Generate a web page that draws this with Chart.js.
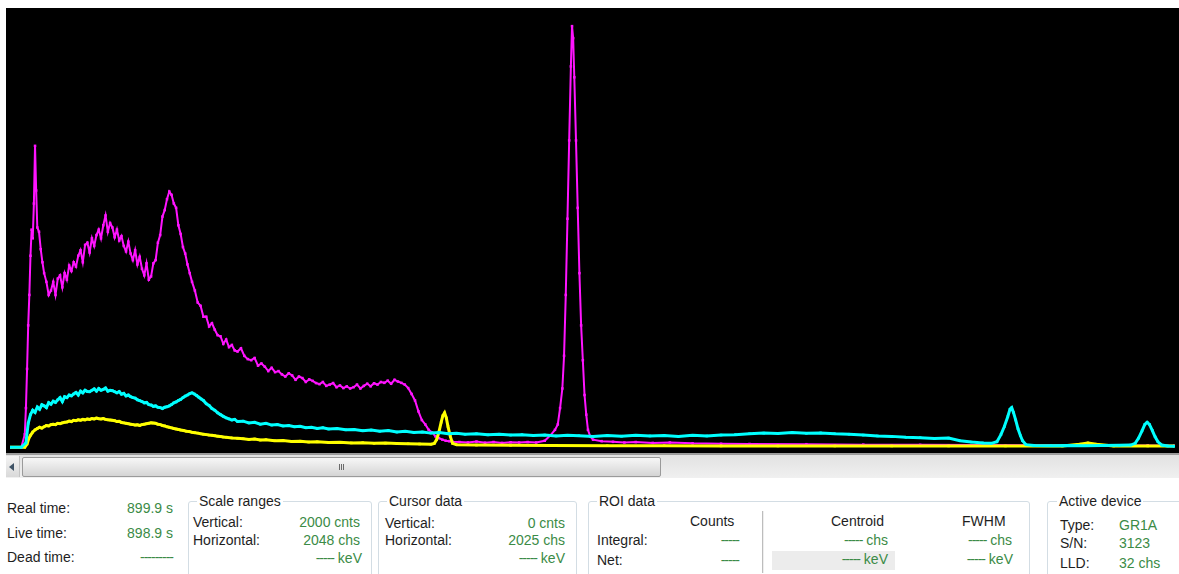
<!DOCTYPE html>
<html>
<head>
<meta charset="utf-8">
<script src="https://cdn.jsdelivr.net/npm/chart.js@4.4.1/dist/chart.umd.min.js"></script>
<style>
body { margin:0; width:1179px; height:574px; background:#fff; overflow:hidden; position:relative;
       font-family:"Liberation Sans", Arial, sans-serif; font-size:14px; color:#1e1e1e; }
#plot { position:absolute; left:6px; top:8px; width:1173px; height:445px; background:#000; }
#axisLine { position:absolute; left:6px; top:453px; width:1173px; height:2px; background:#9c9c9c; }
#scroll { position:absolute; left:6px; top:455px; width:1173px; height:23px; background:linear-gradient(#e2e2e2,#f0f0f0); }
#btnLeft { position:absolute; left:0; top:1px; width:13px; height:21px; background:linear-gradient(#f4f4f4,#d9d9d9); border-right:1px solid #c4c4c4; }
#btnLeft:after { content:""; position:absolute; left:3px; top:7px; border-top:4px solid transparent; border-bottom:4px solid transparent; border-right:5px solid #3f5366; }
#thumb { position:absolute; left:16px; top:2px; width:637px; height:18px; border:1px solid #9a9a9a; border-radius:2px;
         background:linear-gradient(#f7f7f7,#e6e6e6 50%,#d4d4d4); }
.grip { position:absolute; top:6px; width:1px; height:6px; background:#6a6a6a; }
.t { position:absolute; white-space:nowrap; line-height:16px; }
.g { color:#3b8b46; }
.d { letter-spacing:-1px; }
.box { position:absolute; top:501px; height:90px; border:1px solid #d3dde4; border-radius:3px; }
.title { position:absolute; background:#fff; padding:0 2px; line-height:16px; top:493px; }
</style>
</head>
<body>
<div id="plot"><canvas id="spectrum"></canvas></div>
<div id="axisLine"></div>
<div id="scroll">
  <div id="btnLeft"></div>
  <div id="thumb">
    <div class="grip" style="left:316px"></div>
    <div class="grip" style="left:318px"></div>
    <div class="grip" style="left:320px"></div>
  </div>
</div>

<div class="t" style="left:7px;top:500px">Real time:</div>
<div class="t g" style="right:1006px;top:500px">899.9 s</div>
<div class="t" style="left:7px;top:525px">Live time:</div>
<div class="t g" style="right:1006px;top:525px">898.9 s</div>
<div class="t" style="left:7px;top:549px">Dead time:</div>
<div class="t g d" style="right:1006px;top:549px">---------</div>

<div class="box" style="left:188px;width:182px"></div>
<div class="title" style="left:197px">Scale ranges</div>
<div class="t" style="left:193px;top:514px">Vertical:</div>
<div class="t g" style="right:819px;top:514px">2000 cnts</div>
<div class="t" style="left:193px;top:532px">Horizontal:</div>
<div class="t g" style="right:819px;top:532px">2048 chs</div>
<div class="t g" style="right:817px;top:550px"><span class="d">-----</span> keV</div>

<div class="box" style="left:378px;width:197px"></div>
<div class="title" style="left:387px">Cursor data</div>
<div class="t" style="left:385px;top:515px">Vertical:</div>
<div class="t g" style="right:614px;top:515px">0 cnts</div>
<div class="t" style="left:385px;top:532px">Horizontal:</div>
<div class="t g" style="right:614px;top:532px">2025 chs</div>
<div class="t g" style="right:614px;top:550px"><span class="d">-----</span> keV</div>

<div class="box" style="left:588px;width:440px"></div>
<div class="title" style="left:597px">ROI data</div>
<div class="t" style="left:690px;top:513px">Counts</div>
<div class="t" style="left:597px;top:532px">Integral:</div>
<div class="t g d" style="right:440px;top:532px">-----</div>
<div class="t" style="left:597px;top:552px">Net:</div>
<div class="t g d" style="right:440px;top:552px">-----</div>
<div style="position:absolute;left:762px;top:511px;width:1px;height:62px;background:#bdbdbd;border-right:1px solid #eee"></div>
<div class="t" style="left:831px;top:513px">Centroid</div>
<div class="t g" style="right:291px;top:532px"><span class="d">-----</span> chs</div>
<div style="position:absolute;left:772px;top:551px;width:123px;height:19px;background:#ececec"></div>
<div class="t g" style="right:291px;top:551px"><span class="d">-----</span> keV</div>
<div class="t" style="left:962px;top:513px">FWHM</div>
<div class="t g" style="right:167px;top:532px"><span class="d">-----</span> chs</div>
<div class="t g" style="right:166px;top:551px"><span class="d">-----</span> keV</div>

<div class="box" style="left:1047px;width:150px"></div>
<div class="title" style="left:1057px">Active device</div>
<div class="t" style="left:1060px;top:517px">Type:</div>
<div class="t g" style="left:1119px;top:517px">GR1A</div>
<div class="t" style="left:1060px;top:535px">S/N:</div>
<div class="t g" style="left:1119px;top:535px">3123</div>
<div class="t" style="left:1060px;top:555px">LLD:</div>
<div class="t g" style="left:1119px;top:555px">32 chs</div>

<script>
// spectrum data (channel / counts)
const magentaCh = [
  0, 20, 26, 28, 30, 32, 34, 36, 38, 40,
  42, 44, 46, 48, 51, 54, 57, 60, 64, 68,
  72, 76, 80, 84, 88, 92, 96, 100, 104, 108,
  112, 116, 120, 124, 128, 132, 136, 140, 144, 148,
  152, 156, 160, 164, 168, 172, 176, 180, 184, 188,
  192, 196, 200, 204, 208, 212, 216, 220, 224, 228,
  232, 236, 240, 244, 248, 252, 256, 260, 264, 268,
  272, 276, 280, 284, 288, 292, 296, 300, 304, 308,
  312, 316, 320, 325, 330, 335, 340, 345, 350, 355,
  360, 365, 370, 375, 380, 385, 390, 395, 400, 406,
  412, 418, 424, 430, 436, 442, 448, 454, 460, 466,
  472, 478, 484, 490, 496, 502, 508, 514, 520, 526,
  532, 538, 544, 550, 556, 562, 568, 574, 580, 586,
  592, 598, 604, 610, 616, 622, 628, 634, 640, 646,
  652, 658, 664, 670, 676, 682, 688, 694, 700, 706,
  712, 718, 724, 730, 736, 742, 748, 754, 760, 766,
  772, 778, 790, 805, 820, 835, 850, 865, 880, 895,
  910, 925, 940, 950, 958, 963, 967, 971, 974, 977,
  980, 983, 986, 988, 990, 992, 995, 998, 1001, 1004,
  1007, 1010, 1013, 1016, 1020, 1025, 1040, 1060, 1080, 1100,
  1130, 1160, 1200, 1250, 1300, 1400, 1500, 1600, 1700, 1800,
  1900, 2000, 2047
];
const magentaCounts = [
  0, 0, 60, 180, 360, 560, 700, 880, 1000, 960,
  1120, 1385, 1180, 1010, 990, 910, 850, 800, 760, 700,
  720, 760, 700, 775, 790, 735, 800, 770, 835, 810,
  850, 830, 880, 905, 850, 930, 940, 895, 960, 925,
  975, 1000, 960, 1020, 1065, 990, 1030, 1010, 965, 1000,
  950, 970, 925, 900, 945, 890, 860, 905, 840, 875,
  820, 790, 845, 770, 785, 845, 860, 940, 975, 1060,
  1090, 1140, 1175, 1160, 1120, 1100, 1020, 980, 920, 890,
  840, 800, 760, 720, 665, 650, 600, 600, 555, 570,
  540, 515, 510, 475, 495, 460, 470, 445, 440, 455,
  420, 405, 400, 410, 375, 385, 370, 350, 365, 345,
  350, 335, 325, 340, 330, 310, 325, 318, 300, 312,
  305, 295, 290, 300, 282, 288, 295, 276, 284, 272,
  280, 270, 276, 288, 270, 282, 292, 280, 294, 288,
  300, 296, 306, 292, 310, 302, 296, 288, 272, 245,
  215, 165, 125, 105, 80, 68, 50, 42, 35, 30,
  28, 25, 24, 22, 26, 21, 24, 20, 23, 22,
  24, 22, 30, 55, 80, 105, 180, 270, 420, 700,
  1050, 1410, 1750, 1935, 1880, 1700, 1410, 1100, 800, 560,
  400, 240, 150, 80, 50, 35, 28, 25, 22, 24,
  20, 22, 18, 16, 15, 14, 12, 11, 10, 9,
  8, 8, 7
];

const cyanCh = [
  0, 20, 28, 32, 36, 40, 44, 48, 52, 56,
  60, 64, 68, 72, 76, 80, 84, 88, 92, 96,
  100, 104, 108, 112, 116, 120, 124, 128, 132, 136,
  140, 144, 148, 152, 156, 160, 164, 168, 172, 176,
  180, 184, 188, 192, 196, 200, 204, 208, 212, 216,
  220, 224, 228, 232, 236, 240, 244, 248, 252, 256,
  260, 264, 268, 272, 276, 280, 284, 288, 292, 296,
  300, 304, 308, 312, 316, 320, 324, 328, 332, 336,
  340, 345, 350, 355, 360, 365, 370, 375, 380, 385,
  390, 395, 400, 410, 420, 430, 440, 450, 460, 470,
  480, 490, 500, 510, 520, 530, 540, 550, 560, 575,
  590, 605, 620, 635, 650, 665, 680, 695, 710, 725,
  740, 755, 770, 785, 800, 820, 840, 860, 880, 900,
  920, 940, 960, 980, 1000, 1025, 1050, 1075, 1100, 1125,
  1150, 1175, 1200, 1225, 1250, 1275, 1300, 1325, 1350, 1375,
  1400, 1425, 1450, 1475, 1500, 1525, 1550, 1575, 1600, 1625,
  1650, 1670, 1690, 1710, 1725, 1735, 1742, 1748, 1754, 1758,
  1761, 1764, 1768, 1772, 1776, 1780, 1786, 1800, 1830, 1860,
  1890, 1920, 1950, 1970, 1978, 1984, 1990, 1995, 1999, 2003,
  2008, 2013, 2018, 2025, 2035, 2047
];
const cyanCounts = [
  0, 0, 20, 110, 150, 170, 160, 185, 175, 195,
  190, 182, 205, 198, 212, 206, 218, 228, 210, 232,
  228, 240, 236, 245, 252, 240, 258, 250, 262, 256,
  255, 262, 268, 258, 270, 262, 266, 272, 258, 262,
  260, 255, 250, 256, 244, 248, 236, 240, 232, 228,
  226, 218, 214, 210, 204, 206, 196, 194, 188, 190,
  184, 182, 178, 184, 186, 190, 196, 204, 208, 215,
  220, 228, 235, 240, 246, 250, 245, 238, 230, 222,
  215, 200, 192, 178, 170, 158, 150, 142, 135, 130,
  125, 128, 118, 120, 112, 115, 106, 110, 102, 104,
  98, 100, 94, 96, 90, 92, 86, 90, 84, 86,
  80, 82, 76, 79, 74, 77, 70, 73, 68, 70,
  65, 68, 62, 64, 60, 62, 57, 60, 56, 58,
  54, 56, 52, 55, 53, 50, 54, 51, 55, 52,
  54, 50, 55, 52, 56, 58, 62, 65, 63, 68,
  64, 66, 62, 60, 56, 52, 50, 46, 44, 40,
  42, 30, 24, 20, 18, 25, 58, 95, 140, 175,
  182, 160, 125, 85, 55, 30, 12, 8, 7, 8,
  7, 8, 9, 10, 18, 42, 75, 105, 115, 105,
  78, 48, 25, 10, 6, 5
];

const yellowCh = [
  0, 26, 30, 33, 36, 40, 44, 48, 52, 56,
  60, 64, 68, 72, 76, 80, 84, 88, 92, 96,
  100, 104, 108, 112, 116, 120, 124, 128, 132, 136,
  140, 144, 148, 152, 156, 160, 164, 168, 172, 176,
  180, 184, 188, 192, 196, 200, 204, 208, 212, 216,
  220, 224, 228, 232, 236, 240, 244, 248, 252, 256,
  260, 264, 268, 272, 276, 280, 284, 288, 292, 296,
  300, 305, 310, 315, 320, 325, 330, 335, 340, 345,
  350, 355, 360, 365, 370, 375, 380, 390, 400, 410,
  420, 430, 440, 450, 465, 480, 495, 510, 525, 540,
  560, 580, 600, 620, 640, 660, 680, 700, 720, 740,
  746, 750, 754, 758, 761, 764, 767, 770, 774, 778,
  785, 820, 880, 950, 1050, 1150, 1250, 1350, 1450, 1550,
  1650, 1750, 1850, 1880, 1895, 1910, 1940, 2000, 2047
];
const yellowCounts = [
  0, 0, 15, 40, 55, 70, 80, 86, 92, 88,
  94, 100, 98, 104, 106, 104, 110, 108, 112, 115,
  116, 120, 118, 124, 122, 126, 124, 128, 126, 130,
  128, 132, 130, 134, 131, 130, 132, 128, 126, 125,
  124, 122, 118, 119, 114, 112, 110, 108, 106, 104,
  102, 103, 100, 104, 106, 108, 110, 112, 111, 110,
  106, 104, 100, 98, 94, 92, 89, 86, 84, 82,
  79, 77, 74, 72, 69, 67, 65, 62, 60, 58,
  56, 55, 53, 51, 49, 47, 46, 43, 41, 39,
  36, 38, 33, 35, 30, 31, 27, 28, 24, 25,
  22, 23, 20, 21, 18, 19, 17, 16, 15, 14,
  18, 35, 70, 115, 145, 158, 135, 95, 50, 18,
  12, 10, 9, 8, 7, 7, 6, 6, 6, 6,
  6, 6, 6, 14, 20, 14, 6, 6, 6
];

function toPoints(ch, counts) {
  return ch.map((c, i) => ({ x: c, y: counts[i] }));
}

function series(data, color, width) {
  return {
    data: data,
    showLine: true,
    borderColor: color,
    backgroundColor: color,
    borderWidth: width,
    pointRadius: 1.8,
    pointBorderWidth: 0,
    pointStyle: 'rect',
    tension: 0
  };
}

new Chart(document.getElementById('spectrum'), {
  type: 'scatter',
  data: {
    datasets: [
      series(toPoints(cyanCh, cyanCounts), '#00ffff', 3),
      series(toPoints(yellowCh, yellowCounts), '#ffff00', 3),
      series(toPoints(magentaCh, magentaCounts), '#ff14ff', 2)
    ]
  },
  options: {
    responsive: true,
    maintainAspectRatio: false,
    animation: false,
    layout: { padding: 0 },
    plugins: { legend: { display: false }, tooltip: { enabled: false } },
    scales: {
      x: { type: 'linear', min: 0, max: 2048, display: false },
      y: { min: -8, max: 2000, display: false }
    }
  }
});
</script>
</body>
</html>
